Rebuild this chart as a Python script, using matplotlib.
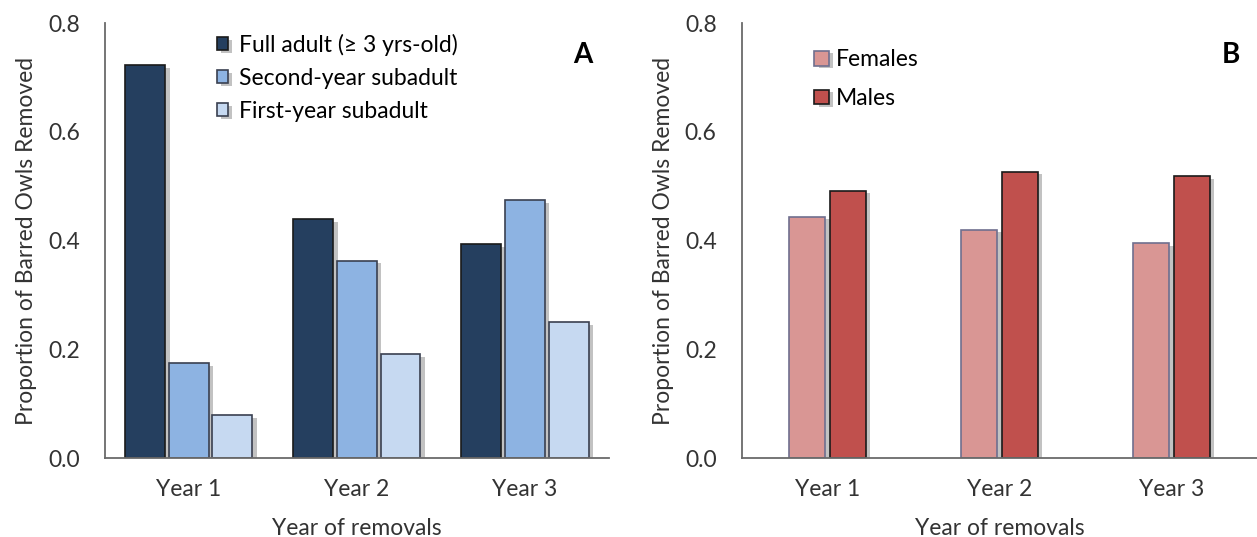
import numpy as np
import matplotlib
matplotlib.use('Agg')
import matplotlib.pyplot as plt
import matplotlib.patheffects as pe

plt.rcParams['font.family'] = ['Lato', 'DejaVu Sans']

years = ['Year 1', 'Year 2', 'Year 3']

# panel A, by age class
age_labels = ['Full adult (\u2265 3 yrs-old)', 'Second-year subadult', 'First-year subadult']
full_adult = [0.723, 0.440, 0.393]
second_year = [0.174, 0.363, 0.475]
first_year = [0.079, 0.191, 0.250]

# panel B, by sex
sex_labels = ['Females', 'Males']
females = [0.444, 0.420, 0.396]
males = [0.492, 0.527, 0.519]

age_colors = ['#253f5f', '#8db3e2', '#c6d9f1']
age_edges = ['#1a1a1a', '#3a4050', '#3a4050']
sex_colors = ['#d99694', '#c0504d']
sex_edges = ['#6f6f8f', '#1a1a1a']

FS = 16.5
TXT = '#333333'
shadow = [pe.SimplePatchShadow(offset=(3, -2), shadow_rgbFace='#9a9a9a', alpha=0.6), pe.Normal()]

fig = plt.figure(figsize=(12.57, 5.37), dpi=100)
axA = fig.add_axes([0.0835, 0.147, 0.401, 0.810])
axB = fig.add_axes([0.590, 0.147, 0.4105, 0.810])

def style(ax, letter, pad):
    ax.set_ylim(0, 0.8)
    ax.set_xlim(-0.5, 2.5)
    ax.set_yticks(np.arange(0, 0.81, 0.2))
    ax.set_yticklabels(['%.1f' % v for v in np.arange(0, 0.81, 0.2)])
    ax.set_xticks(range(3))
    ax.set_xticklabels(years)
    ax.tick_params(axis='y', length=0, labelsize=FS, colors=TXT, pad=pad)
    ax.tick_params(axis='x', length=0, labelsize=FS, colors=TXT, pad=15)
    for s in ['top', 'right']:
        ax.spines[s].set_visible(False)
    for s in ['left', 'bottom']:
        ax.spines[s].set_color('#6a6a6a')
        ax.spines[s].set_linewidth(1.3)
    ax.set_xlabel('Year of removals', fontsize=FS, color=TXT, labelpad=13)
    ax.set_ylabel('Proportion of Barred Owls Removed', fontsize=FS, color=TXT, labelpad=8)
    ax.text(0.948, 0.926, letter, transform=ax.transAxes, fontsize=20, fontweight='bold',
            ha='center', va='center')

x = np.arange(3)
for i, (vals, lab) in enumerate(zip([full_adult, second_year, first_year], age_labels)):
    bars = axA.bar(x + (i - 1) * 0.259, vals, 0.238, color=age_colors[i], edgecolor=age_edges[i],
                   linewidth=1.2, label=lab)
    for b in bars:
        b.set_path_effects(shadow)
style(axA, 'A', 18)
axA.legend(loc='upper left', bbox_to_anchor=(0.222, 0.975), frameon=False, fontsize=FS,
           borderpad=0, borderaxespad=0,
           handlelength=0.5, handleheight=0.5, handletextpad=0.45, labelspacing=0.52)

for i, (vals, lab) in enumerate(zip([females, males], sex_labels)):
    bars = axB.bar(x + (i - 0.5) * 0.236, vals, 0.21, color=sex_colors[i], edgecolor=sex_edges[i],
                   linewidth=1.2, label=lab)
    for b in bars:
        b.set_path_effects(shadow)
style(axB, 'B', 18)
axB.legend(loc='upper left', bbox_to_anchor=(0.141, 0.94), frameon=False, fontsize=FS,
           borderpad=0, borderaxespad=0,
           handlelength=0.62, handleheight=0.62, handletextpad=0.3, labelspacing=0.78)

fig.savefig('out.png', dpi=100)
